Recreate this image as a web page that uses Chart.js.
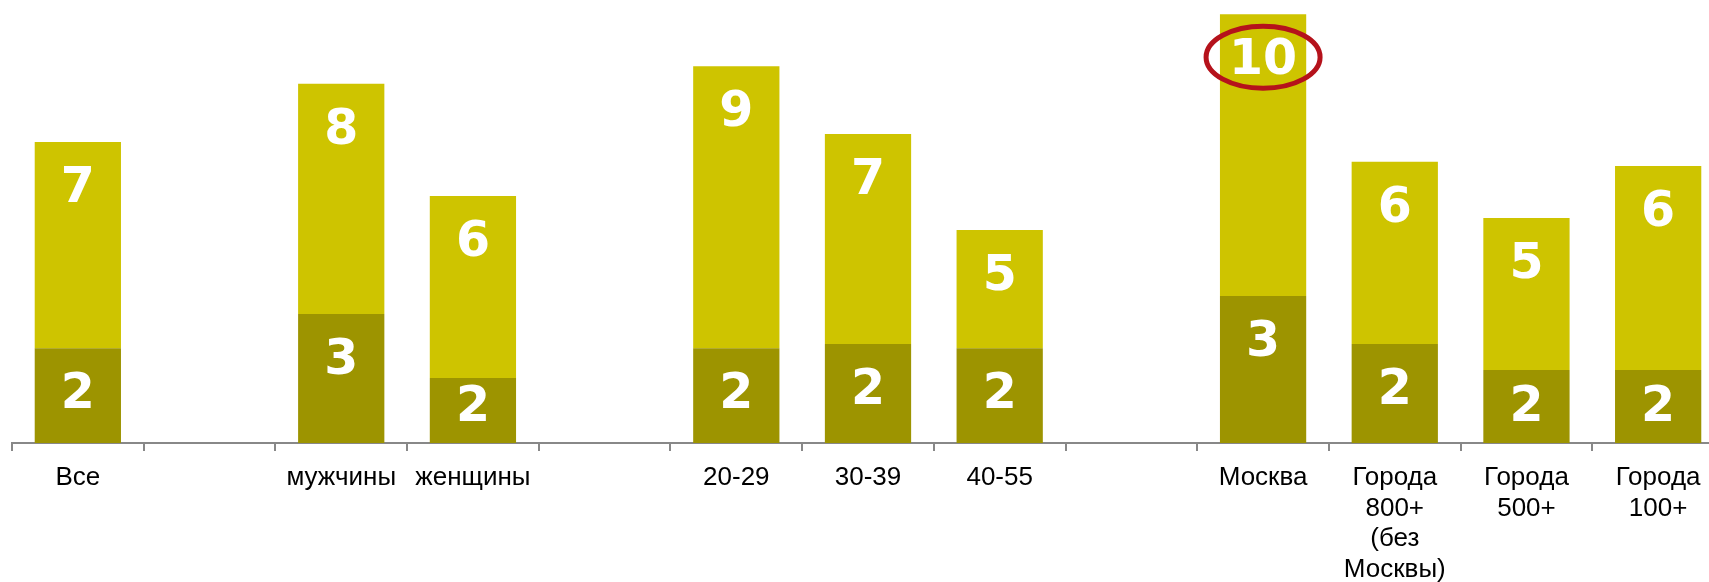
<!DOCTYPE html>
<html>
<head>
<meta charset="utf-8">
<script src="https://cdn.jsdelivr.net/npm/chart.js@4"></script>
<style>
  html, body { margin: 0; padding: 0; background: #fff; overflow: hidden; }
  #wrap { width: 1724px; height: 582px; }
</style>
</head>
<body>
<div id="wrap"><canvas id="canvas-1"></canvas></div>
<script>
// categories (empty strings are the gaps between groups)
const categories = [
  'Все', '', 'мужчины', 'женщины', '',
  '20-29', '30-39', '40-55', '',
  'Москва', ['Города', '800+', '(без', 'Москвы)'], ['Города', '500+'], ['Города', '100+']
];
// bar heights
const lowerValues = [3.21, null, 4.37, 2.20, null, 3.21, 3.35, 3.21, null, 4.98, 3.35, 2.47, 2.47];
const upperValues = [6.98, null, 7.79, 6.16, null, 9.55, 7.11, 4.00, null, 9.54, 6.17, 5.15, 6.91];
// numbers printed on the bars
const lowerLabels = ['2', '', '3', '2', '', '2', '2', '2', '', '3', '2', '2', '2'];
const upperLabels = ['7', '', '8', '6', '', '9', '7', '5', '', '10', '6', '5', '6'];
const circled = 'Москва';

const barLabels = {
  id: 'barLabels',
  afterDatasetsDraw(chart) {
    const ctx = chart.ctx;
    const texts = [lowerLabels, upperLabels];
    ctx.save();
    ctx.font = 'bold 49px "DejaVu Sans"';
    ctx.textAlign = 'center';
    ctx.textBaseline = 'alphabetic';
    ctx.fillStyle = '#fff';
    chart.data.datasets.forEach((ds, i) => {
      chart.getDatasetMeta(i).data.forEach((el, j) => {
        if (ds.data[j] == null) return;
        const top = Math.min(el.y, el.base);
        const bottom = Math.max(el.y, el.base);
        const cy = Math.min(top + 43, bottom - 39);
        ctx.fillText(texts[i][j], el.x, cy + 17);
        if (i === 1 && categories[j] === circled) {
          ctx.beginPath();
          ctx.ellipse(el.x, cy, 57, 31, 0, 0, Math.PI * 2);
          ctx.lineWidth = 5;
          ctx.strokeStyle = '#B5121B';
          ctx.stroke();
        }
      });
    });
    ctx.restore();
  }
};

const stackChart = new Chart(document.getElementById('canvas-1'), {
  type: 'bar',
  data: {
    labels: categories,
    datasets: [{
      data: lowerValues,
      backgroundColor: '#9D9400',
      barPercentage: 0.655,
      categoryPercentage: 1
    }, {
      data: upperValues,
      backgroundColor: '#CEC400',
      barPercentage: 0.655,
      categoryPercentage: 1
    }]
  },
  plugins: [barLabels],
  options: {
    responsive: true,
    maintainAspectRatio: false,
    animation: false,
    layout: { padding: { left: 12, right: 0, top: 0, bottom: 0 } },
    plugins: { legend: { display: false }, tooltip: { enabled: false } },
    scales: {
      x: {
        stacked: true,
        grid: { offset: true, drawOnChartArea: false, drawTicks: true, tickLength: 8, color: '#888', lineWidth: 2 },
        border: { color: '#888', width: 2 },
        ticks: {
          autoSkip: false, maxRotation: 0, padding: 12, color: '#000',
          font: { family: '"Liberation Sans", Arial', size: 26, lineHeight: 1.17 }
        },
        afterFit(scale) { scale.height = 139; }
      },
      y: { stacked: true, display: false, min: 0, max: 15 }
    }
  }
});
</script>
</body>
</html>
